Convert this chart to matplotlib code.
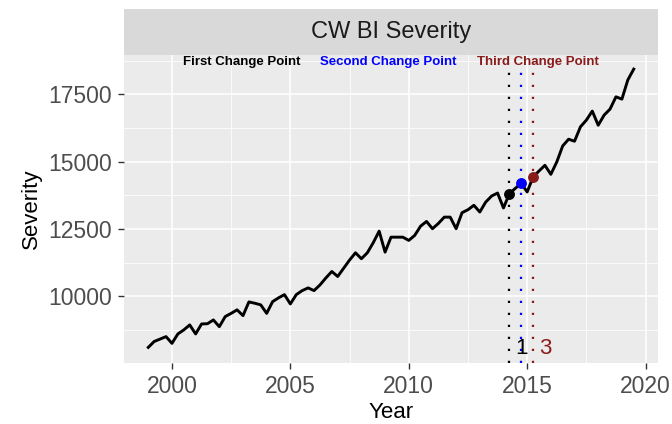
import numpy as np
import matplotlib
matplotlib.use("Agg")
import matplotlib.pyplot as plt
from matplotlib.ticker import FixedLocator

plt.rcParams['font.family'] = ['Liberation Sans', 'DejaVu Sans']

# quarterly severity, 1999 Q1 .. 2019 Q3
severity = [8100, 8320, 8410, 8500, 8250, 8600, 8750, 8935, 8600, 8970,
            8980, 9120, 8870, 9245, 9365, 9495, 9280, 9790, 9740, 9680,
            9365, 9800, 9940, 10060, 9715, 10060, 10210, 10310, 10210, 10420,
            10680, 10920, 10735, 11040, 11345, 11615, 11395, 11615, 11990, 12420,
            11640, 12195, 12195, 12195, 12075, 12260, 12605, 12780, 12510, 12705,
            12940, 12940, 12510, 13105, 13215, 13380, 13130, 13500, 13725, 13835,
            13280, 13815, 14010, 14195, 13875, 14430, 14655, 14865, 14530, 14990,
            15585, 15835, 15760, 16295, 16545, 16880, 16355, 16730, 16955, 17410,
            17325, 18035, 18440]
years = 1999 + 0.25 * np.arange(len(severity))

cp_years = [2014.25, 2014.75, 2015.25]
cp_colors = ['black', 'blue', '#8B1A1A']
cp_titles = ['First Change Point', 'Second Change Point', 'Third Change Point']
cp_title_x = [2002.95, 2009.15, 2015.45]
cp_labels = {'1': (2014.75, 'black'), '3': (2015.75, '#8B1A1A')}

x_ticks = [2000, 2005, 2010, 2015, 2020]
y_ticks = [10000, 12500, 15000, 17500]

W, H = 672, 424
fig = plt.figure(figsize=(W / 100, H / 100), dpi=100)
left, right, top, bottom = 124, 658, 55, 363
ax = fig.add_axes([left / W, 1 - bottom / H, (right - left) / W, (bottom - top) / H])
strip = fig.add_axes([left / W, 1 - top / H, (right - left) / W, 46 / H])

ax.set_facecolor('#EBEBEB')
ax.set_xlim(1997.975, 2020.525)
ax.set_ylim(7520, 18964)
ax.xaxis.set_major_locator(FixedLocator(x_ticks))
ax.xaxis.set_minor_locator(FixedLocator([1997.5, 2002.5, 2007.5, 2012.5, 2017.5]))
ax.yaxis.set_major_locator(FixedLocator(y_ticks))
ax.yaxis.set_minor_locator(FixedLocator([8750, 11250, 13750, 16250, 18750]))
ax.grid(which='major', color='white', lw=1.1)
ax.grid(which='minor', color='white', lw=0.55)
ax.set_axisbelow(True)
for s in ax.spines.values():
    s.set_visible(False)
ax.tick_params(which='major', length=4.5, width=1.0, color='#333333',
               labelsize=16.5, labelcolor='#4D4D4D', pad=4)
ax.tick_params(which='minor', length=0)

ymin = ax.get_ylim()[0]
ymax = max(severity)
for x, c in zip(cp_years, cp_colors):
    ax.vlines(x, ymin, ymax, colors=c, lw=1.6, linestyles=(0, (1, 4.4)), zorder=2)

ax.plot(years, severity, color='black', lw=2.1, zorder=3)

for x, c in zip(cp_years, cp_colors):
    i = list(years).index(x)
    ax.plot(x, severity[i], 'o', color=c, ms=6.8, zorder=4)

for t, x, c in zip(cp_titles, cp_title_x, cp_colors):
    ax.text(x, 18700, t, color=c, fontsize=9.5, fontweight='bold',
            ha='center', va='center', zorder=5)

for lab, (x, c) in cp_labels.items():
    ax.text(x, 8050, lab, color=c, fontsize=16, ha='center', va='center', zorder=5)

ax.set_xlabel('Year', fontsize=16, color='black', labelpad=3)
ax.set_ylabel('Severity', fontsize=16, color='black', labelpad=5)

strip.set_facecolor('#D9D9D9')
strip.set_xticks([])
strip.set_yticks([])
for s in strip.spines.values():
    s.set_visible(False)
strip.text(0.5, 0.5, 'CW BI Severity', transform=strip.transAxes,
           ha='center', va='center', fontsize=17, color='#1A1A1A')

fig.savefig('out.png', dpi=100)
